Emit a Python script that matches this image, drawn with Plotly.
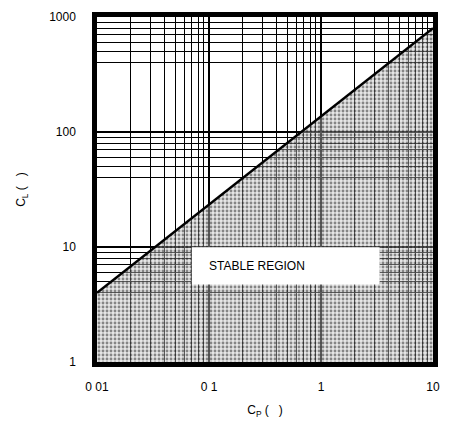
import plotly.graph_objects as go

# Stability boundary: load capacitance limit vs. parallel capacitance
cp_boundary = [0.01, 10]
cl_boundary = [4, 800]

# Axis ticks
x_tickvals = [0.01, 0.1, 1, 10]
x_ticktext = ["0 01", "0 1", "1", "10"]
y_tickvals = [1, 10, 100, 1000]
y_ticktext = ["1", "10", "100", "1000"]

# Graph-paper rulings inside each decade
x_minor_mult = [2, 3, 4, 5, 6, 7, 8, 9]
y_minor_mult = [4, 5, 6, 7, 8, 9]

x_minor = [m * d for d in [0.01, 0.1, 1] for m in x_minor_mult]
y_minor = [m * d for d in [1, 10, 100] for m in y_minor_mult]

# Closed polygon of the stable region (below the boundary line)
region_x = [cp_boundary[0]] + cp_boundary + [cp_boundary[-1]]
region_y = [y_tickvals[0]] + cl_boundary + [y_tickvals[0]]

fig = go.Figure()

fig.add_trace(go.Scatter(
    x=region_x, y=region_y,
    mode="none", fill="toself",
    fillcolor="rgba(200,200,200,0.45)",
    fillpattern=dict(shape=".", fgcolor="rgba(0,0,0,0.85)", size=4, solidity=0.4),
    hoverinfo="skip", showlegend=False,
))

fig.add_trace(go.Scatter(
    x=cp_boundary, y=cl_boundary,
    mode="lines", line=dict(color="black", width=2.5),
    hoverinfo="skip", showlegend=False,
))

# White label box with text
fig.add_shape(type="rect", xref="paper", yref="paper",
              x0=(193 - 97) / 340, x1=(383 - 97) / 340,
              y0=(362 - 283) / 352, y1=(362 - 245) / 352,
              fillcolor="white", line=dict(width=0), layer="above")
fig.add_annotation(text="STABLE REGION", xref="paper", yref="paper",
                   x=(208 - 97) / 340, y=(362 - 264) / 352,
                   xanchor="left", yanchor="middle", showarrow=False,
                   font=dict(family="Liberation Sans, Arial, sans-serif", size=12, color="black"))

axis_font = dict(family="Liberation Sans, Arial, sans-serif", size=12, color="black")

fig.update_xaxes(
    type="log", range=[-2, 1],
    tickmode="array", tickvals=x_tickvals, ticktext=x_ticktext,
    ticks="outside", ticklen=10, tickcolor="rgba(0,0,0,0)",
    tickfont=axis_font,
    showgrid=True, gridcolor="black", gridwidth=1.5,
    minor=dict(tickmode="array", tickvals=x_minor, showgrid=True,
               gridcolor="black", gridwidth=1.2, ticks=""),
    showline=True, linecolor="black", linewidth=4.5, mirror=True,
    zeroline=False,
    title=dict(text="C<sub>P</sub> (   )", font=axis_font, standoff=14),
)

fig.update_yaxes(
    type="log", range=[0, 3],
    tickmode="array", tickvals=y_tickvals, ticktext=y_ticktext,
    ticks="outside", ticklen=14, tickcolor="rgba(0,0,0,0)",
    tickfont=axis_font,
    showgrid=True, gridcolor="black", gridwidth=1.5,
    minor=dict(tickmode="array", tickvals=y_minor, showgrid=True,
               gridcolor="black", gridwidth=1.2, ticks=""),
    showline=True, linecolor="black", linewidth=4.5, mirror=True,
    zeroline=False,
    title=dict(text="C<sub>L</sub> (   )", font=axis_font, standoff=22),
)

fig.update_layout(
    width=450, height=428,
    margin=dict(l=97, r=13, t=10, b=66),
    paper_bgcolor="white", plot_bgcolor="white",
    showlegend=False,
)

fig.write_html("out.html")
